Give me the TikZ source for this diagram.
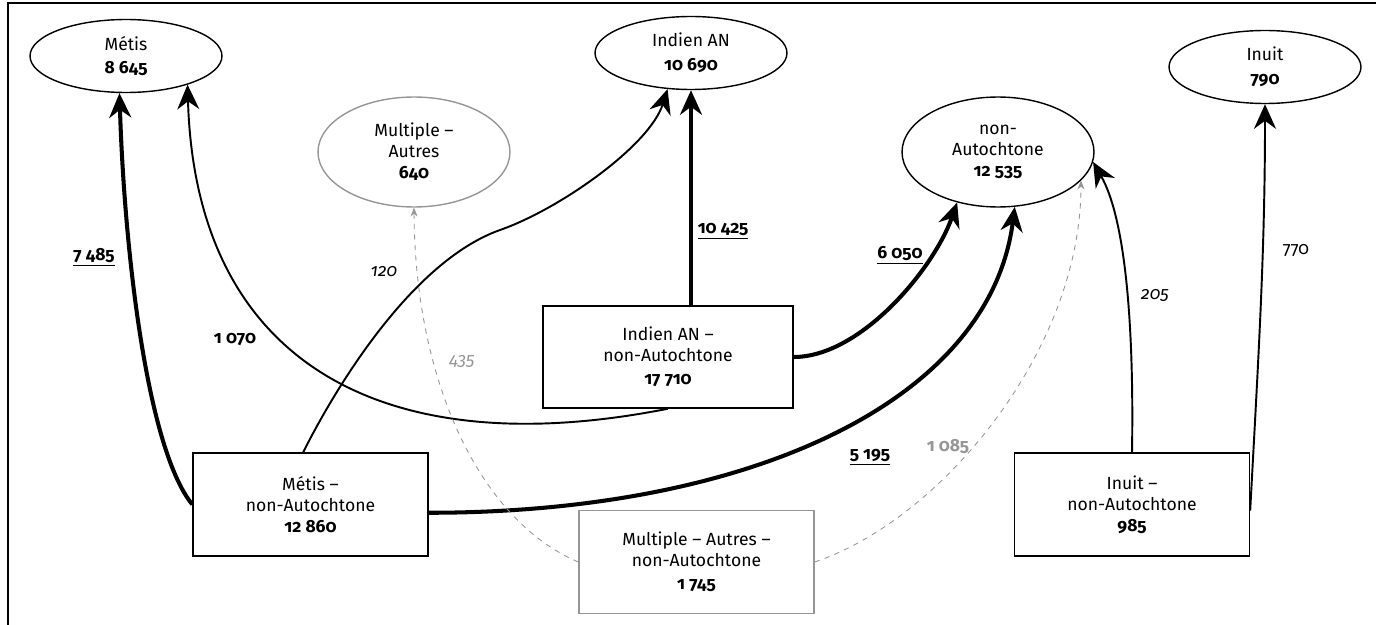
\documentclass[tikz,border=0pt]{standalone}
\usepackage{fontspec}
\setmainfont{Fira Sans}[Numbers=OldStyle]
\usetikzlibrary{shapes.geometric,arrows.meta}

\definecolor{flowgray}{RGB}{150,150,150}

\tikzset{
  pop/.style={ellipse, draw, line width=0.8pt, minimum width=3.84cm,
    minimum height=1.46cm, inner sep=0pt, align=center},
  popbig/.style={pop, minimum height=2.2cm},
  mixbox/.style={rectangle, draw, line width=0.8pt, minimum width=4.7cm,
    minimum height=2.06cm, inner sep=0pt, align=center},
  bigflow/.style={line width=2.3pt, -{Stealth[length=14pt,width=12.5pt]}},
  smallflow/.style={line width=1.1pt, -{Stealth[length=14pt,width=12.5pt]}},
  otherflow/.style={flowgray, dashed, line width=0.5pt,
    -{Stealth[length=5pt,width=4pt]}},
  num/.style={font=\bfseries}
}

\begin{document}
\begin{tikzpicture}[x=0.02cm, y=-0.02cm,
    every node/.style={font=\fontsize{10}{12}\selectfont}]
  \useasboundingbox (0,0) rectangle (1376,625);
  \draw[line width=0.8pt] (8,625) -- (8,3) -- (1376,3);

  % single identities
  \node[pop] (metis) at (126,56) {Métis\\[1.5pt]\textbf{8 645}};
  \node[popbig, draw=flowgray] (multaut) at (414,152) {Multiple --\\Autres\\\textbf{640}};
  \node[pop] (indien) at (691,53) {Indien AN\\[1.5pt]\textbf{10 690}};
  \node[popbig] (nonaut) at (998,152) {non-\\Autochtone\\\textbf{12 535}};
  \node[pop] (inuit) at (1265,67) {Inuit\\[1.5pt]\textbf{790}};

  % mixed identities
  \node[mixbox, minimum width=5cm, minimum height=2.04cm] (indnA) at (668,357)
    {Indien AN --\\non-Autochtone\\[1pt]\textbf{17 710}};
  \node[mixbox] (metisnA) at (310.5,504.5) {Métis --\\non-Autochtone\\\textbf{12 860}};
  \node[mixbox, draw=flowgray] (multnA) at (696.5,562)
    {Multiple -- Autres --\\non-Autochtone\\[1pt]\textbf{1 745}};
  \node[mixbox] (inuitnA) at (1132,504.5) {Inuit --\\non-Autochtone\\\textbf{985}};

  \coordinate (kink) at (500,230);

  % flows
  \draw[bigflow] (metisnA.west) .. controls +(-45,-55) and +(5,160) .. (metis.-100);
  \draw[smallflow] (indnA.south) .. controls +(-288,57) and +(8,276) .. (metis.-25);
  \draw[smallflow] (metisnA.98) .. controls +(30,-60) and +(-90,32) .. (kink)
    .. controls +(60,-21) and +(-18,56.5) .. (indien.-123);
  \draw[bigflow] (indnA.north -| indien.south) -- (indien.south);
  \draw[bigflow] (indnA.east) .. controls +(67,0) and +(-23,66) .. (nonaut.-129);
  \draw[bigflow] (metisnA.-4) .. controls +(322,0) and +(-25,194) .. (nonaut.-73);
  \draw[smallflow] (inuitnA.north) .. controls +(2,-123) and +(33,58) .. (nonaut.-6);
  \draw[smallflow] (inuitnA.-3) .. controls +(8,-150) and +(0,150) .. (inuit.south);
  \draw[otherflow] (multnA.west) .. controls +(-99,-42) and +(1,173) .. (multaut.south);
  \draw[otherflow] (multnA.east) .. controls +(126,-42) and +(0,170) .. (nonaut.-19);

  % flow values
  \node[num] (l7485) at (94,257) {\underline{7 485}};
  \node[num] (l1070) at (235,339) {1 070};
  \node (l120) at (384,272) {\textit{120}};
  \node[flowgray] (l435) at (462,361) {\textit{435}};
  \node[num] (l10425) at (723,231) {\underline{10 425}};
  \node[num] (l6050) at (900,255) {\underline{6 050}};
  \node[num] (l5195) at (870,457) {\underline{5 195}};
  \node[num, flowgray] (l1085) at (948,447) {1 085};
  \node (l205) at (1155,295) {\textit{205}};
  \node (l770) at (1296,251) {770};
\end{tikzpicture}
\end{document}
